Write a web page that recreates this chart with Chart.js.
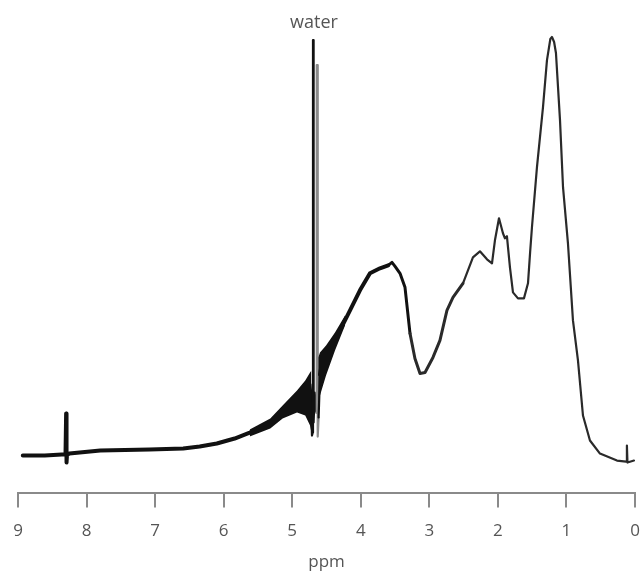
<!DOCTYPE html>
<html><head><meta charset="utf-8">
<script src="https://cdn.jsdelivr.net/npm/chart.js@4/dist/chart.umd.min.js"></script>
<style>html,body{margin:0;padding:0;background:#fff}#wrap{width:644px;height:571px}</style>
</head><body><div id="wrap"><canvas id="c" width="644" height="571"></canvas></div>
<script>
// Chemical shift (ppm) and signal intensity
const ppmValues = [8.93,8.61,8.36,8.307,8.298,8.292,8.285,8.25,7.80,7.08,6.59,6.35,6.10,5.84,5.62,5.32,5.14,4.93,4.81,4.748,4.725,4.712,4.700,4.697,4.693,4.688,4.672,4.650,4.642,4.636,4.628,4.615,4.595,4.566,4.507,4.376,4.157,4.012,3.866,3.72,3.60,3.545,3.50,3.428,3.355,3.282,3.21,3.136,3.063,2.947,2.845,2.743,2.655,2.509,2.364,2.262,2.159,2.086,2.043,1.984,1.926,1.897,1.868,1.824,1.78,1.707,1.62,1.561,1.53,1.503,1.43,1.342,1.284,1.235,1.211,1.18,1.153,1.094,1.05,0.978,0.905,0.832,0.759,0.657,0.511,0.263,0.13,0.118,0.11,0.015];
const intensities = [37,37,38,38,79,30,38,39,42,43,44,46,49,54,60,69,80,92,100,108,90,57,60,452,452,70,100,80,427,427,56,75,118,130,140,152,182,202,219,224,227,230,226,219,205,159,134,119,120,135,152,182,195,209,235,241,233,229,252,274,259,254,256,225,200,194,194,209,240,265,325,385,432,453,455,450,439,372,305,249,172,132,77,52,39,32,31,47,30,32];
// Noise band around the water resonance (upper / lower envelope)
const bandPpm = [5.62,5.32,5.14,4.93,4.81,4.74,4.72, 4.62,4.595,4.507,4.376,4.23];
const bandUpper = [63,74,87,102,112,120,122, 135,140,147,160,177];
const bandLower = [56,64,74,80,77,67,60, 70,97,117,142,167];
const tickLabels = ['0','1','2','3','4','5','6','7','8','9'];
const waterLabel = 'water';
const waterLabelPpm = 4.683;
const waterLabelLevel = 469;

const mainData = ppmValues.map((p,i)=>({x:p,y:intensities[i]}));
const upperData = bandPpm.map((p,i)=>({x:p,y:bandUpper[i]}));
const lowerData = bandPpm.map((p,i)=>({x:p,y:bandLower[i]}));

const labelPlugin = {
  id:'waterLabel',
  afterDatasetsDraw(chart){
    const {ctx, scales:{x,y}} = chart;
    ctx.save();
    ctx.font = '18px "Open Sans"';
    ctx.fillStyle = '#555';
    ctx.textAlign = 'center';
    ctx.textBaseline = 'middle';
    ctx.fillText(waterLabel, x.getPixelForValue(waterLabelPpm), y.getPixelForValue(waterLabelLevel));
    ctx.restore();
  }
};

function segWidth(a){
  if (a<4.73 && a>4.61) return 2.2;
  if (a>3.6) return 4;
  if (a>2.6) return 3;
  return 2.2;
}

new Chart(document.getElementById('c'), {
  type:'line',
  data:{datasets:[
    {data:lowerData, borderWidth:0, pointRadius:0, fill:false, borderColor:'rgba(0,0,0,0)'},
    {data:upperData, borderWidth:0, pointRadius:0, fill:'-1', backgroundColor:'#111', borderColor:'rgba(0,0,0,0)',
      segment:{backgroundColor:(c)=> (c.p0.parsed.x>4.70 && c.p1.parsed.x<4.65) ? 'rgba(0,0,0,0)' : '#111'}},
    {data:mainData, pointRadius:0, fill:false, tension:0, borderColor:'#111', borderWidth:4, borderJoinStyle:'round', borderCapStyle:'round',
      segment:{
        borderWidth:(c)=> segWidth(c.p0.parsed.x),
        borderColor:(c)=>{const a=c.p0.parsed.x; if(a<4.66 && a>4.62) return '#8a8a8a'; return a>3.3?'#111':'#2a2a2a';}
      }}
  ]},
  options:{
    responsive:false, animation:false,
    layout:{padding:{top:12,left:0,right:0,bottom:0}},
    plugins:{legend:{display:false}, tooltip:{enabled:false}},
    scales:{
      x:{type:'linear', reverse:true, min:0, max:9,
        afterFit:(s)=>{ s.paddingLeft = 18; s.paddingRight = 9; },
        ticks:{stepSize:1, font:{family:'Open Sans', size:17}, color:'#555', padding:13, maxRotation:0, autoSkip:false,
          callback:(v)=> tickLabels[v] !== undefined ? tickLabels[v] : ''},
        grid:{display:true, drawOnChartArea:false, drawTicks:true, tickLength:15, color:'#8a8a8a', lineWidth:2},
        border:{display:true, color:'#8a8a8a', width:2},
        title:{display:true, text:'ppm', font:{family:'Open Sans', size:17, lineHeight:1.0}, color:'#555', padding:{top:0,bottom:0}}
      },
      y:{display:false, min:0, max:480}
    }
  },
  plugins:[labelPlugin]
});
</script></body></html>
